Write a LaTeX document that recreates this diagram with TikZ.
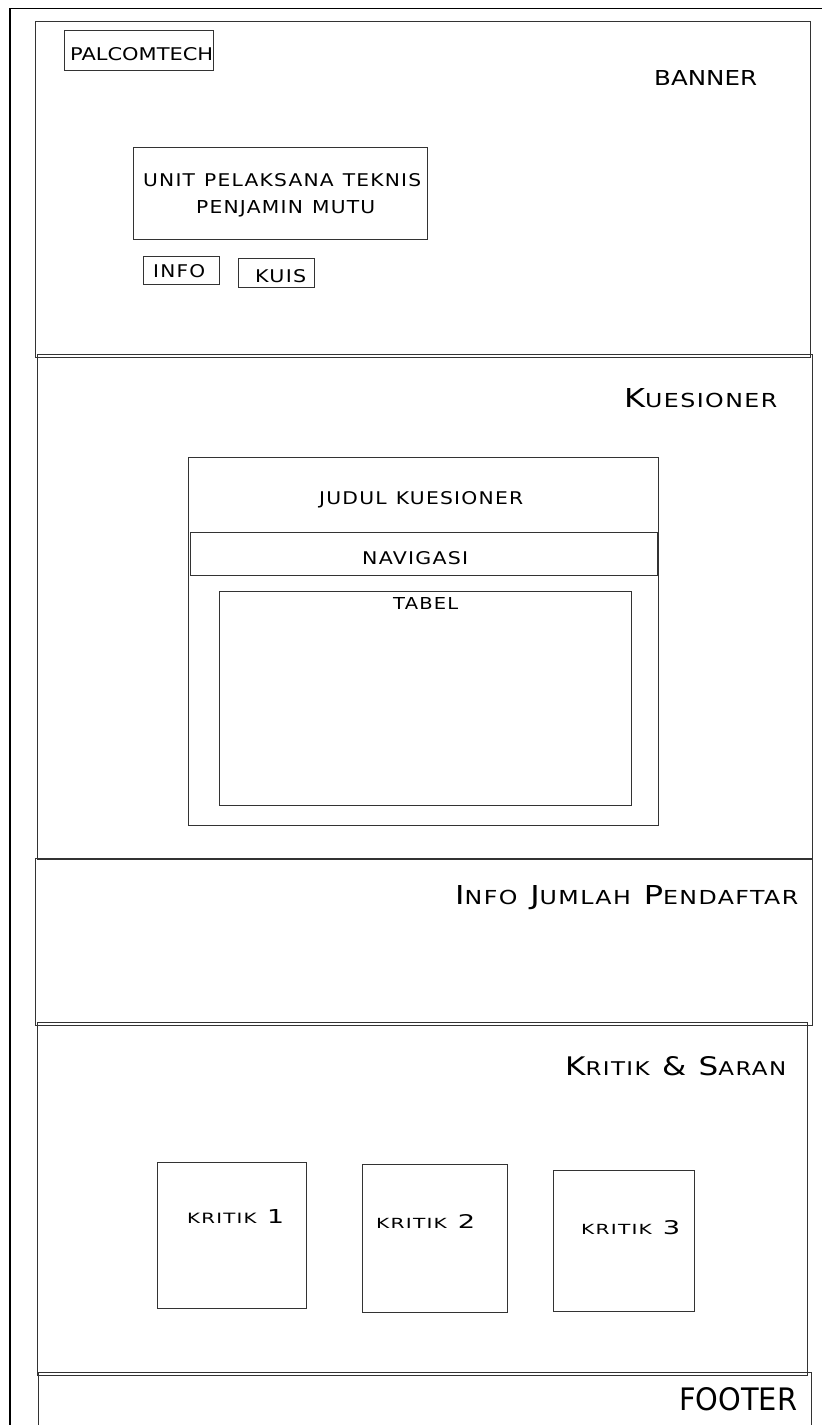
\documentclass[tikz,border=0pt]{standalone}
\usepackage{fontspec}
\setmainfont{DejaVu Sans}
\newfontfamily\spaced[LetterSpace=6]{DejaVu Sans}
\newfontfamily\condf{DejaVu Sans}
\newcommand\fitt[3]{\resizebox{#1pt}{#2pt}{#3}}
\newcommand\SCx[2]{{\fontsize{20}{20}\selectfont #1}{\fontsize{14.8}{14.8}\selectfont #2}}
\newcommand\gap{\hspace{0.45em}}
\newcommand\wgap{\hspace{0.8em}}
\tikzset{
  frame/.style={draw=black, line width=1.8pt},
  box/.style={draw=black!80, line width=0.8pt, rectangle, inner sep=0pt, anchor=north west},
  lbl/.style={anchor=base west, inner sep=0pt, text=black}
}
\begin{document}
\begin{tikzpicture}[x=1pt,y=-1pt]
\useasboundingbox (0,0) rectangle (822,1425);
\clip (0,0) rectangle (822,1425);
\fill[white] (0,0) rectangle (822,1425);
% outer frame
\coordinate (o1) at (10,8.5);
\coordinate (o2) at (840,8.5);
\coordinate (o3) at (10,1440);
\draw[frame] (o2) -- (o1) -- (o3);
% sections
\node[box, minimum width=775pt, minimum height=336pt] (banner) at (35,21) {};
\node[box, minimum width=775pt, minimum height=505pt] (kues) at (37,354) {};
\node[box, minimum width=777pt, minimum height=167pt] (infoj) at (35,858) {};
\node[box, minimum width=770pt, minimum height=353pt] (kritik) at (37,1022) {};
\node[box, minimum width=773pt, minimum height=80pt] (footer) at (38,1372) {};
% banner contents
\node[box, minimum width=149pt, minimum height=40pt] (palbox) at (64,30) {};
\node[lbl] (pal) at (70,60) {\fitt{143}{13}{\condf PALCOMTECH}};
\node[lbl] (bannert) at (654,85) {\fitt{103}{15}{\condf BANNER}};
\node[box, minimum width=294pt, minimum height=92pt] (unitbox) at (133,147) {};
\node[lbl] (unit1) at (143,186) {\fitt{278}{13}{\spaced UNIT\gap PELAKSANA\gap TEKNIS}};
\node[lbl] (unit2) at (196,213) {\fitt{179}{13}{\spaced PENJAMIN\gap MUTU}};
\node[box, minimum width=76pt, minimum height=28pt] (infobox) at (143,256) {};
\node[lbl] (info) at (153,277) {\fitt{52}{13}{\spaced INFO}};
\node[box, minimum width=76pt, minimum height=29pt] (kuisbox) at (238,258) {};
\node[lbl] (kuis) at (255,282) {\fitt{51}{13}{\spaced KUIS}};
% kuesioner contents
\node[lbl] (kuest) at (624,407) {\fitt{153}{19}{\spaced\SCx{K}{UESIONER}}};
\node[box, minimum width=470pt, minimum height=368pt] (inner) at (188,457) {};
\node[lbl] (judul) at (319,504) {\fitt{204}{13}{\spaced JUDUL\gap KUESIONER}};
\node[box, minimum width=467pt, minimum height=43pt] (navbox) at (190,532) {};
\node[lbl] (nav) at (362,564) {\fitt{106}{13}{\spaced NAVIGASI}};
\node[box, minimum width=412pt, minimum height=214pt] (tabbox) at (219,591) {};
\node[lbl] (tab) at (393,609) {\fitt{65}{12}{\spaced TABEL}};
% info jumlah
\node[lbl] (infojt) at (455,904) {\fitt{343}{19}{\spaced\SCx{I}{NFO}\wgap\SCx{J}{UMLAH}\wgap\SCx{P}{ENDAFTAR}}};
% kritik
\node[lbl] (kritikt) at (565,1075) {\fitt{221}{19}{\spaced\SCx{K}{RITIK}\wgap{\fontsize{20}{20}\selectfont\&}\wgap\SCx{S}{ARAN}}};
\node[box, minimum width=149pt, minimum height=146pt] (k1box) at (157,1162) {};
\node[lbl] (k1) at (187,1223) {\fitt{97}{14}{\spaced{\fontsize{14.8}{14.8}\selectfont KRITIK}\wgap{\fontsize{20}{20}\selectfont 1}}};
\node[box, minimum width=145pt, minimum height=148pt] (k2box) at (362,1164) {};
\node[lbl] (k2) at (376,1228) {\fitt{99}{14}{\spaced{\fontsize{14.8}{14.8}\selectfont KRITIK}\wgap{\fontsize{20}{20}\selectfont 2}}};
\node[box, minimum width=141pt, minimum height=141pt] (k3box) at (553,1170) {};
\node[lbl] (k3) at (581,1234) {\fitt{99}{14}{\spaced{\fontsize{14.8}{14.8}\selectfont KRITIK}\wgap{\fontsize{20}{20}\selectfont 3}}};
% footer
\node[lbl] (foot) at (679,1410) {\fitt{118}{23}{\condf FOOTER}};
\end{tikzpicture}
\end{document}
